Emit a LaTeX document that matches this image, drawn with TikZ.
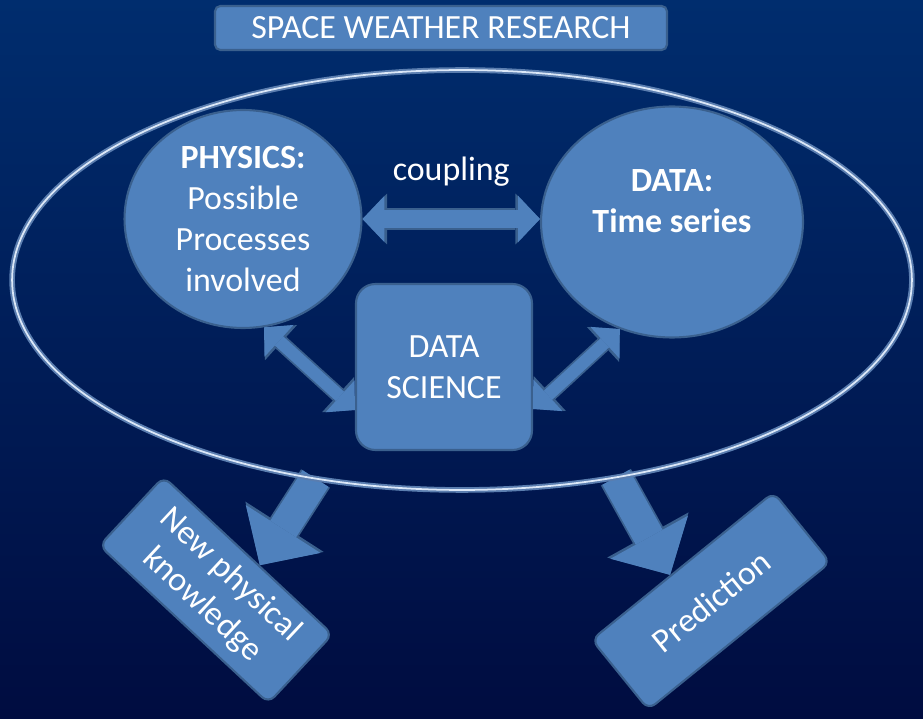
\documentclass[tikz,border=0pt]{standalone}
\usepackage{fontspec}
\setmainfont{Carlito}
\usepackage{tikz}
\usetikzlibrary{shapes,arrows.meta,calc}
\definecolor{boxblue}{RGB}{79,129,189}
\definecolor{edgeblue}{RGB}{58,96,142}
\definecolor{skytop}{RGB}{0,45,110}
\definecolor{skybottom}{RGB}{0,12,64}
\definecolor{ringglow}{RGB}{90,125,175}
\definecolor{ringline}{RGB}{220,232,248}
\tikzstyle{base} = [draw=edgeblue, line width=1.2pt, fill=boxblue, text=white,
    align=center, font=\fontsize{19.3}{23.4}\selectfont]
\tikzstyle{title} = [base, rectangle, rounded corners=3pt,
    minimum width=9.04cm, minimum height=0.88cm]
\tikzstyle{circ} = [base, ellipse, inner sep=-1pt]
\tikzstyle{science} = [base, rectangle, rounded corners=11pt,
    minimum width=3.52cm, minimum height=3.32cm]
\tikzstyle{outcome} = [base, rectangle, rounded corners=5pt]
\tikzstyle{ring} = [ellipse, draw=ringglow, line width=1.1pt, double=ringline,
    double distance=1pt, minimum width=18cm, minimum height=8.4cm]
\tikzstyle{word} = [text=white, font=\fontsize{19.3}{23.4}\selectfont]
\tikzstyle{link} = [draw=boxblue, line width=10pt,
    {Triangle[width=26.5pt,length=12.5pt,line width=0pt]}-{Triangle[width=26.5pt,length=12.5pt,line width=0pt]},
    preaction={draw=edgeblue, line width=12pt,
    {Triangle[width=29pt,length=14pt,line width=0pt]}-{Triangle[width=29pt,length=14pt,line width=0pt]}}]
\tikzstyle{slant} = [draw=boxblue, line width=7pt,
    {Triangle[width=24.5pt,length=11.5pt,line width=0pt]}-{Triangle[width=24.5pt,length=11.5pt,line width=0pt]},
    preaction={draw=edgeblue, line width=9pt,
    {Triangle[width=27pt,length=13pt,line width=0pt]}-{Triangle[width=27pt,length=13pt,line width=0pt]}}]
\tikzstyle{outflow} = [draw=boxblue, line width=17.5pt,
    -{Triangle[width=50.5pt,length=24.5pt,line width=0pt]},
    preaction={draw=edgeblue, line width=19.5pt,
    -{Triangle[width=53pt,length=26pt,line width=0pt]}}]

\begin{document}
\begin{tikzpicture}[x=0.02cm, y=-0.02cm]
    % Sky
    \fill [top color=skytop, bottom color=skybottom] (0,0) rectangle (923,719);
    % Place nodes
    \node [title] (head) at (441,28) {SPACE WEATHER RESEARCH};
    \node [circ, minimum width=4.74cm, minimum height=4.36cm] (phys) at (243,219)
        {\textbf{PHYSICS:}\\Possible\\Processes\\involved};
    \node [circ, minimum width=5.24cm, minimum height=4.62cm] (data) at (672,222)
        {\textbf{DATA:}\\\textbf{Time series}\\~};
    \node [science] (ds) at (444,367) {DATA\\SCIENCE};
    \node [outcome, minimum width=4.62cm, minimum height=1.88cm, rotate=-43] (know)
        at (216,590) {New physical\\knowledge};
    \node [outcome, minimum width=4.68cm, minimum height=1.8cm, rotate=39] (pred)
        at (711,601) {Prediction};
    % Draw edges
    \path [link] (phys.east) -- (phys.east -| data.west);
    \path (phys.east) -- node [above=15pt, word] (cpl) {coupling} (phys.east -| data.west);
    \path [slant] (phys.281) -- ([yshift=-0.86cm]ds.west);
    \path [slant] ([yshift=-0.84cm]ds.east) -- (data.244);
    \coordinate (knowtip) at ($(know.north)!0.13!(know.north east)$);
    \coordinate (predtip) at ($(pred.north)!0.13!(pred.north west)$);
    \path [outflow] (462,280) ++(251:9cm and 4.2cm) -- (knowtip);
    \path [outflow] (462,280) ++(-70:9cm and 4.2cm) -- (predtip);
    % Outer ring over the arrow roots
    \node [ring] (swr) at (462,280) {};
\end{tikzpicture}
\end{document}
